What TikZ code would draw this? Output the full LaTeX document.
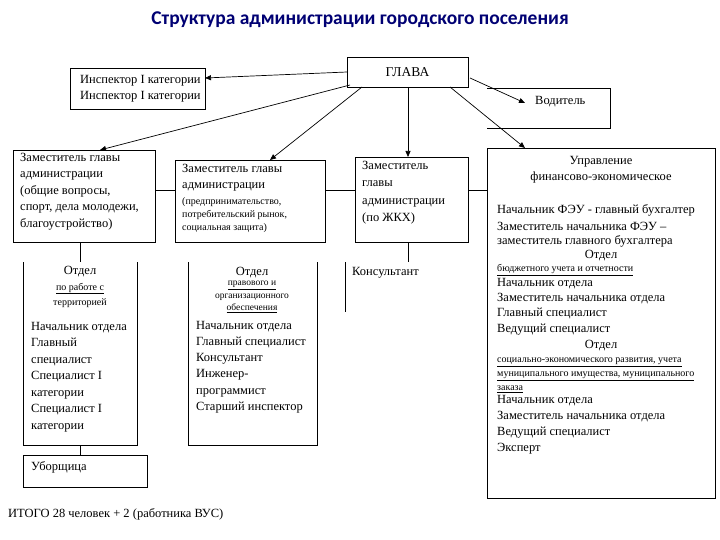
\documentclass[tikz,border=0pt]{standalone}
\usepackage{fontspec}
\setmainfont{Liberation Serif}
\newfontfamily\titlefont{Carlito}
\usetikzlibrary{arrows.meta}
\begin{document}
\begin{tikzpicture}[x=1pt,y=-1pt,
  box/.style={draw,line width=0.8pt},
  con/.style={line width=0.7pt},
  arr/.style={line width=0.7pt,-{Triangle[length=6pt,width=5pt]}},
  txt/.style={anchor=west,inner sep=0pt,font=\fontsize{12.5}{16.3}\selectfont,align=left},
  sm/.style={anchor=west,inner sep=0pt,font=\fontsize{10}{13}\selectfont,align=left},
  ctr/.style={anchor=center,inner sep=0pt,font=\fontsize{12.5}{16}\selectfont,align=center}]
\useasboundingbox (0,0) rectangle (720,540);
\node[font=\titlefont\bfseries\fontsize{19.5}{22}\selectfont,text=blue!45!black] (title) at (360,20) {Структура администрации городского поселения};
% boxes
\draw[box] (347,57) rectangle (468,87);
\node[ctr,font=\fontsize{13.5}{16}\selectfont] (glava) at (407.5,72) {ГЛАВА};
\coordinate (gl) at (347,72);
\draw[box] (70,68) rectangle (205,109);
\coordinate (insp) at (205,78);
\node[txt] (inspt) at (80,88.5) {Инспектор I категории\\Инспектор I категории};
\draw[box] (487,88) -- (610,88) -- (610,128) -- (487,128);
\coordinate (vod) at (525,103);
\node[txt] (vodt) at (535,102) {Водитель};
\draw[box] (13,150) rectangle (155,242);
\coordinate (d1) at (100,150);
\node[txt,anchor=north west,font=\fontsize{12.5}{16.5}\selectfont] (d1t) at (20,153) {Заместитель главы\\администрации\\(общие вопросы,\\спорт, дела молодежи,\\благоустройство)};
\draw[box] (175,160) rectangle (325,242);
\coordinate (d2) at (270,160);
\node[txt,anchor=north west] (d2t) at (182,164) {Заместитель главы\\администрации};
\node[sm,anchor=north west] (d2s) at (182,197) {(предпринимательство,\\потребительский рынок,\\социальная защита)};
\draw[box] (355,157) rectangle (468,242);
\coordinate (d3) at (408,157);
\node[txt,anchor=north west,font=\fontsize{12.5}{17.5}\selectfont] (d3t) at (362,161) {Заместитель\\главы\\администрации\\(по ЖКХ)};
\draw[box] (487,148) rectangle (715,498);
\coordinate (feu) at (525,148);
% arrows
\draw[arr] (gl) -- (insp);
\draw[arr] (350,85) -- (d1);
\draw[arr] (362,87) -- (d2);
\draw[arr] (408,87) -- (d3);
\draw[arr] (450,87) -- (feu);
\draw[arr] (470,78) -- (vod);
% connectors between deputies
\draw[con] (155,190) -- (175,190);
\draw[con] (325,190) -- (355,190);
\draw[con] (468,190) -- (487,190);
% FEU text
\node[ctr] (feuh) at (601,170) {Управление\\финансово-экономическое};
\node[txt] (f1) at (497,210) {Начальник ФЭУ - главный бухгалтер};
\node[txt] (f2) at (497,226) {Заместитель начальника ФЭУ –};
\node[txt] (f3) at (497,241) {заместитель главного бухгалтера};
\node[ctr] (o1) at (601,256) {Отдел};
\node[sm] (o1u) at (497,270) {\underline{бюджетного учета и отчетности}};
\node[txt,anchor=north west,font=\fontsize{12.5}{15.3}\selectfont] (o1l) at (497,278) {Начальник отдела\\Заместитель начальника отдела\\Главный специалист\\Ведущий специалист};
\node[ctr] (o2) at (601,346) {Отдел};
\node[sm] (o2a) at (497,362) {\underline{социально-экономического развития, учета}};
\node[sm] (o2b) at (497,376) {\underline{муниципального имущества, муниципального}};
\node[sm] (o2c) at (497,389) {\underline{заказа}};
\node[txt,anchor=north west,font=\fontsize{12.5}{16}\selectfont] (o2l) at (497,395) {Начальник отдела\\Заместитель начальника отдела\\Ведущий специалист\\Эксперт};
% lower left
\draw[con] (80,242) -- (80,262);
\draw[box] (23,262) -- (23,445) -- (137,445) -- (137,262);
\node[ctr] (ot1) at (80,272) {Отдел};
\node[sm,anchor=center,align=center,font=\fontsize{10}{15}\selectfont] (ot1u) at (80,295) {\underline{по работе с}\\территорией};
\node[txt,anchor=north west,font=\fontsize{12.5}{16.5}\selectfont] (ot1l) at (31,322) {Начальник отдела\\Главный\\специалист\\Специалист I\\категории\\Специалист I\\категории};
\draw[con] (80,445) -- (80,455);
\draw[box] (23,455) rectangle (147,487);
\node[txt] (ub) at (31,467) {Уборщица};
\draw[box] (188,262) -- (188,445) -- (317,445) -- (317,262);
\node[ctr] (ot2) at (252,273) {Отдел};
\node[sm,anchor=north,align=center,font=\fontsize{9.5}{12.5}\selectfont] (ot2u) at (252,281) {\underline{правового и}\\организационного\\\underline{обеспечения}};
\node[txt,anchor=north west,font=\fontsize{12.5}{16.2}\selectfont] (ot2l) at (196,321) {Начальник отдела\\Главный специалист\\Консультант\\Инженер-\\программист\\Старший инспектор};
\draw[con] (408,242) -- (408,262);
\draw[con] (345,262) -- (345,312);
\node[txt] (kons) at (352,273) {Консультант};
\node[txt] (itogo) at (8,514) {ИТОГО 28 человек + 2 (работника ВУС)};
\end{tikzpicture}
\end{document}
